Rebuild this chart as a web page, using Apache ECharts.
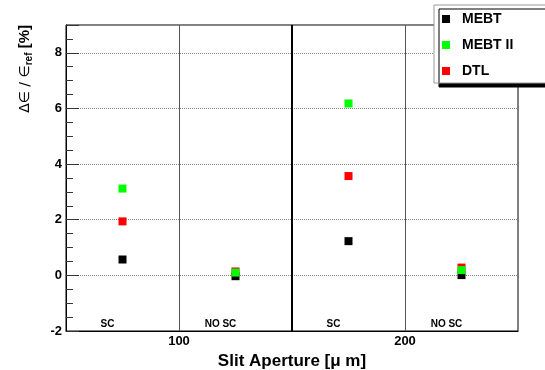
<!DOCTYPE html>
<html>
<head>
<meta charset="utf-8">
<script src="https://cdn.jsdelivr.net/npm/echarts@6/dist/echarts.min.js"></script>
<style>
  html, body { margin: 0; padding: 0; background: #fff; }
  #main { width: 545px; height: 370px; }
</style>
</head>
<body>
<div id="main"></div>
<script>
// data
var apertures = [75, 125, 175, 225];
var mebt   = [0.57, -0.03, 1.23, 0.01];
var mebt2  = [3.12, 0.10, 6.18, 0.19];
var dtl    = [1.94, 0.14, 3.57, 0.28];
var sectionEdges  = [50, 100, 150, 200, 250];
var sectionLabels = ['SC', 'NO SC', 'SC', 'NO SC'];
var xTickLabels = [100, 200];

var font = '"Liberation Sans", Arial, Helvetica, sans-serif';
var chart = echarts.init(document.getElementById('main'));

function pts(ys) {
  return ys.map(function (v, i) { return [apertures[i], v]; });
}

// vertical separators between the sections (middle one drawn thicker)
var sepLines = sectionEdges.slice(1, -1).map(function (x, i) {
  var mid = i === 1;
  return { xAxis: x, lineStyle: { color: mid ? '#000' : '#555', width: mid ? 2 : 1, type: 'solid' } };
});
var areas = sectionLabels.map(function (name, i) {
  return [{ xAxis: sectionEdges[i], name: name }, { xAxis: sectionEdges[i + 1] }];
});

chart.setOption({
  animation: false,
  backgroundColor: '#fff',
  grid: { left: 66, top: 25, right: 27, bottom: 39, outerBoundsMode: 'none', containLabel: false,
          show: true, borderColor: '#000', borderWidth: 1 },
  legend: {
    data: ['MEBT', 'MEBT II', 'DTL'],
    orient: 'vertical',
    left: 434, top: 5,
    padding: [7, 60, 5, 8],
    itemGap: 12,
    itemWidth: 8, itemHeight: 8,
    icon: 'rect',
    backgroundColor: '#fff',
    borderColor: '#999', borderWidth: 1,
    shadowColor: '#000', shadowOffsetX: 5, shadowOffsetY: 4, shadowBlur: 0,
    textStyle: { fontFamily: font, fontWeight: 'bold', fontSize: 14, color: '#000', padding: [0, 0, 0, 7] },
    z: 10
  },
  xAxis: {
    type: 'value', min: 50, max: 250, interval: 50,
    name: 'Slit Aperture [μ m]', nameLocation: 'middle', nameGap: 14,
    nameTextStyle: { fontFamily: font, fontWeight: 'bold', fontSize: 17, color: '#000' },
    axisLine: { onZero: false, lineStyle: { color: '#000', width: 1 } },
    axisTick: { show: false },
    splitLine: { show: false },
    axisLabel: {
      margin: 4, fontFamily: font, fontWeight: 'bold', fontSize: 13, color: '#000',
      formatter: function (v) { return xTickLabels.indexOf(v) >= 0 ? String(v) : ''; }
    }
  },
  yAxis: {
    type: 'value', min: -2, max: 9, interval: 2,
    axisLine: { show: true, lineStyle: { color: '#000', width: 1 } },
    axisTick: { show: true, inside: true, length: 13, lineStyle: { color: '#333' } },
    minorTick: { show: true, splitNumber: 4, length: 7, lineStyle: { color: '#333' } },
    splitLine: { show: true, lineStyle: { color: '#888', type: 'dotted', width: 1 } },
    axisLabel: { margin: 4, showMaxLabel: false, fontFamily: font, fontWeight: 'bold', fontSize: 13, color: '#000' }
  },
  graphic: [{
    type: 'text',
    x: 25, y: 25,
    rotation: Math.PI / 2,
    style: {
      text: '{a|Δ∈ / ∈}{s|ref}{b| [%]}',
      align: 'right', verticalAlign: 'middle',
      rich: {
        a: { fontFamily: 'DejaVu Sans, sans-serif', fontSize: 14, fill: '#000', lineHeight: 18 },
        s: { fontFamily: font, fontWeight: 'bold', fontSize: 10, fill: '#000', lineHeight: 18, verticalAlign: 'bottom', padding: [6, 0, 0, 0] },
        b: { fontFamily: font, fontWeight: 'bold', fontSize: 15, fill: '#000', lineHeight: 18 }
      }
    }
  }],
  series: [
    {
      name: 'MEBT', type: 'scatter', symbol: 'rect', symbolSize: 8, z: 3,
      itemStyle: { color: '#000', opacity: 1 },
      data: pts(mebt),
      markLine: { silent: true, symbol: ['none', 'none'], label: { show: false }, data: sepLines },
      markArea: {
        silent: true,
        itemStyle: { color: 'rgba(0,0,0,0)' },
        label: { show: true, position: 'insideBottom', distance: 2, offset: [-15, 0],
                 fontFamily: font, fontWeight: 'bold', fontSize: 10, color: '#000' },
        data: areas
      }
    },
    { name: 'DTL', type: 'scatter', symbol: 'rect', symbolSize: 8, z: 4, itemStyle: { color: '#ff0000', opacity: 1 }, data: pts(dtl) },
    { name: 'MEBT II', type: 'scatter', symbol: 'rect', symbolSize: 8, z: 5, itemStyle: { color: '#00ff00', opacity: 1 }, data: pts(mebt2) }
  ]
});
</script>
</body>
</html>
